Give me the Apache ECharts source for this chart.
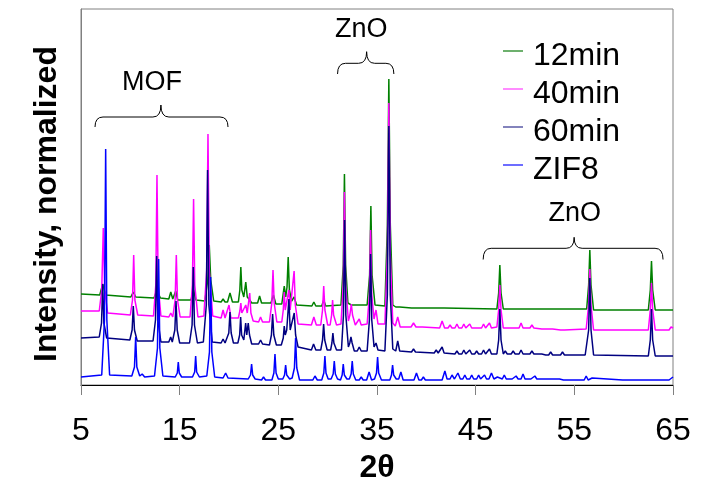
<!DOCTYPE html>
<html>
<head>
<meta charset="utf-8">
<script src="https://cdn.jsdelivr.net/npm/echarts@6/dist/echarts.min.js"></script>
<style>
html,body{margin:0;padding:0;background:#fff;}
#chart{width:702px;height:480px;}
</style>
</head>
<body>
<div id="chart"></div>
<script>
// x-axis tick labels (2-theta)
const xTicks = [5, 15, 25, 35, 45, 55, 65];
const seriesNames = ['12min', '40min', '60min', 'ZIF8'];

// Stacked (offset) XRD patterns, [2theta, intensity]
const data12min = [
[5,91],[6.9,90],[7.2,101],[7.5,90],
[10.05,88],[10.3,93],[10.55,88],
[12.4,87],[12.58,92],[12.7,105],[12.82,92],[13.05,87],
[13.9,86],[14.1,93],[14.3,86],[14.4,86],[14.6,94],[14.8,85],
[16.15,85],[16.4,95],[16.65,85],
[17.55,84],[17.85,105],[18.0,140],[18.15,105],[18.45,84],
[19.2,83],[19.4,86],[19.6,83],
[19.85,83],[20.1,92],[20.35,83],
[20.95,83],[21.1,95],[21.2,118],[21.3,95],[21.5,88],[21.7,103],[21.85,88],[22.1,85],[22.3,82],
[22.9,82],[23.1,89],[23.3,82],
[24.25,82],[24.5,90],[24.75,81],
[25.35,81],[25.6,99],[25.75,88],[25.88,98],[26.0,128],[26.12,95],[26.35,84],[26.6,88],[26.85,80],
[28.4,79],[28.6,83],[28.8,79],
[29.4,79],[29.6,85],[29.8,79],
[31.35,80],[31.58,120],[31.7,211],[31.82,120],[32.05,82],[32.2,83],[32.4,80],
[34.0,80],[34.25,110],[34.38,179],[34.5,110],[34.8,80],
[35.8,79],[36.05,160],[36.2,306],[36.35,160],[36.6,80],
[36.9,78],[37.1,80],[37.3,78],
[38.5,77],[38.7,79],[38.9,77],
[41.4,77],[41.6,79],[41.8,77],
[47.15,76],[47.33,92],[47.45,120],[47.57,92],[47.8,76],
[53.5,76],[53.7,77],[53.9,76],
[56.25,76],[56.45,100],[56.57,135],[56.69,100],[56.95,75],
[62.5,75],[62.7,95],[62.82,124],[62.94,95],[63.2,75],
[65,75]
];

const data40min = [
[5,74],[6.85,74],[7.1,95],[7.26,157],[7.4,95],[7.7,72],
[10.0,70],[10.22,85],[10.34,130],[10.46,85],[10.75,70],
[12.35,69],[12.58,100],[12.7,210],[12.82,100],[13.1,69],
[13.9,68],[14.1,72],[14.3,68],
[14.35,68],[14.54,85],[14.66,130],[14.78,85],[15.05,68],
[16.05,68],[16.29,100],[16.41,186],[16.53,100],[16.85,68],
[17.45,69],[17.74,115],[17.87,251],[18.0,115],[18.35,69],
[19.2,67],[19.4,75],[19.6,67],
[19.8,67],[20.0,80],[20.2,67],
[20.95,67],[21.1,74],[21.2,82],[21.3,72],[21.45,70],[21.7,80],[21.85,72],[22.1,92],[22.22,72],[22.45,64],
[23.0,63],[23.2,68],[23.4,63],
[24.1,63],[24.34,82],[24.46,115],[24.58,82],[24.85,63],
[25.35,63],[25.5,75],[25.6,93],[25.7,75],[25.9,75],[26.07,95],[26.2,75],[26.4,76],[26.6,114],[26.72,80],[27.0,61],
[28.35,60],[28.6,68],[28.85,60],
[29.3,60],[29.48,75],[29.6,99],[29.72,75],[30.0,60],
[30.25,60],[30.4,70],[30.5,85],[30.6,70],[30.9,60],
[31.35,61],[31.58,100],[31.7,193],[31.82,100],[32.1,64],[32.25,70],[32.4,81],[32.52,70],[32.8,60],
[33.0,60],[33.2,66],[33.4,60],
[34.0,61],[34.23,90],[34.35,155],[34.47,90],[34.7,66],[34.9,75],[35.1,61],
[35.8,61],[36.05,130],[36.2,282],[36.35,130],[36.6,62],
[36.85,59],[37.1,68],[37.35,58],
[38.45,58],[38.7,62],[38.95,58],[39.2,58],[39.4,60],[39.6,58],
[41.35,57],[41.6,64],[41.85,57],[42.2,57],[42.4,60],[42.6,57],[42.9,57],[43.1,61],[43.3,57],
[43.6,57],[43.8,61],[44.0,57],[44.2,57],[44.4,61],[44.6,57],[44.9,57],[45.1,59],[45.3,57],[45.6,57],[45.8,61],[46.0,57],[46.2,57],[46.4,62],[46.6,57],
[47.15,58],[47.33,75],[47.45,100],[47.57,75],[47.8,57],
[48.6,57],[48.8,59],[49.0,57],[49.4,57],[49.6,62],[49.8,57],[50.5,57],[50.7,60],[50.9,57],[51.7,56],[51.9,58],[52.1,56],[52.4,56],[52.6,58],[52.8,56],[53.6,55],[53.8,57],[54.0,55],
[56.2,56],[56.45,80],[56.57,116],[56.69,80],[56.95,55],
[62.5,55],[62.7,75],[62.82,102],[62.94,75],[63.2,55],
[64.6,55],[64.8,58],[65,57]
];

const data60min = [
[5,47],[6.85,48],[7.08,62],[7.2,101],[7.32,62],[7.6,47],
[9.95,45],[10.18,55],[10.3,79],[10.42,55],[10.7,44],
[12.3,44],[12.55,65],[12.67,129],[12.79,65],[13.1,43],
[13.9,43],[14.09,48],[14.25,43],
[14.35,43],[14.51,55],[14.63,84],[14.75,55],[15.0,42],
[16.0,42],[16.26,60],[16.38,118],[16.5,60],[16.8,42],
[17.4,43],[17.7,80],[17.83,215],[17.96,80],[18.3,43],
[19.2,42],[19.4,46],[19.6,42],
[19.8,42],[19.98,52],[20.1,73],[20.22,52],[20.45,42],
[20.9,42],[21.08,50],[21.18,68],[21.28,50],[21.5,45],[21.69,62],[21.8,50],[21.95,62],[22.08,50],[22.3,41],
[23.0,41],[23.2,45],[23.4,41],
[24.1,40],[24.3,50],[24.42,71],[24.54,50],[24.8,40],
[25.3,40],[25.5,47],[25.6,59],[25.7,50],[25.85,55],[26.07,86],[26.2,55],[26.35,55],[26.61,72],[26.75,50],[27.0,38],
[28.35,35],[28.57,41],[28.8,35],
[29.3,35],[29.48,45],[29.59,61],[29.7,45],[29.95,35],
[30.3,35],[30.43,42],[30.53,52],[30.63,42],[30.9,35],
[31.4,35],[31.6,70],[31.72,165],[31.84,70],[32.1,38],[32.24,42],[32.36,48],[32.48,42],[32.7,34],
[33.0,34],[33.2,38],[33.4,34],
[34.0,34],[34.23,65],[34.35,131],[34.47,65],[34.7,38],[34.9,42],[35.1,35],
[35.8,34],[36.05,90],[36.2,259],[36.35,90],[36.6,36],
[36.9,34],[37.1,44],[37.3,34],
[38.5,33],[38.7,36],[38.9,33],
[40.8,32],[41.0,35],[41.2,32],[41.4,32],[41.6,38],[41.8,32],
[42.9,31],[43.1,34],[43.3,31],[43.6,31],[43.8,35],[44.0,31],[44.2,31],[44.4,35],[44.6,31],[44.9,31],[45.1,34],[45.3,31],[45.6,31],[45.8,35],[46.0,31],[46.2,31],[46.4,36],[46.6,31],
[47.15,31],[47.33,45],[47.45,76],[47.57,45],[47.8,31],[48.0,34],[48.2,31],[48.6,31],[48.8,34],[49.0,31],[49.4,31],[49.6,35],[49.8,31],[50.5,31],[50.7,34],[50.9,31],[51.7,31],[51.9,33],[52.1,30],[52.4,30],[52.6,33],[52.8,30],[53.6,30],[53.8,33],[54.0,30],
[55.7,30],[55.9,32],[56.1,30],
[56.25,31],[56.45,55],[56.57,107],[56.69,55],[56.95,30],
[62.5,29],[62.7,45],[62.82,76],[62.94,45],[63.2,29],
[65,29]
];

const dataZIF8 = [
[5,8],[7.1,10],[7.38,65],[7.5,236],[7.62,65],[7.9,10],
[10.15,9],[10.42,18],[10.54,48],[10.66,18],[10.95,9],
[11.2,11],[11.45,8],
[12.45,9],[12.75,37],[12.87,126],[12.99,37],[13.3,9],
[14.55,8],[14.76,12],[14.86,23],[14.96,12],[15.2,8],
[16.3,8],[16.52,13],[16.62,29],[16.72,13],[17.0,8],
[17.75,9],[18.02,33],[18.14,108],[18.26,33],[18.55,8],
[19.4,7],[19.66,12],[19.9,7],
[21.95,6],[22.18,10],[22.29,21],[22.4,10],[22.65,6],
[23.3,5],[23.5,8],[23.7,5],
[24.35,5],[24.55,12],[24.66,31],[24.77,12],[25.0,6],[25.45,6],[25.63,10],[25.74,20],[25.85,10],[26.15,6],
[26.4,7],[26.63,17],[26.75,47],[26.87,17],[27.15,5],
[28.5,5],[28.71,9],[28.95,5],
[29.4,5],[29.61,12],[29.72,29],[29.83,12],[30.05,6],[30.35,6],[30.56,11],[30.67,24],[30.78,11],[31.0,6],[31.3,5],[31.47,10],[31.58,21],[31.69,10],[31.95,6],[32.2,6],[32.38,11],[32.49,24],[32.6,11],[32.85,5],
[33.2,5],[33.4,8],[33.6,5],
[33.95,5],[34.2,13],[34.45,5],
[34.75,6],[34.95,12],[35.06,28],[35.17,12],[35.45,5],
[36.3,5],[36.47,10],[36.58,20],[36.69,10],[36.95,6],[37.2,6],[37.42,13],[37.65,5],
[38.75,5],[39.0,12],[39.25,5],[39.5,5],[39.7,8],[39.9,5],
[41.6,5],[41.88,14],[42.1,6],[42.4,6],[42.6,10],[42.85,6],[43.0,6],[43.2,12],[43.45,6],[43.7,6],[43.9,10],[44.1,6],[44.4,6],[44.6,10],[44.8,6],[45.1,6],[45.3,10],[45.5,6],[45.7,6],[45.9,10],[46.1,6],[46.35,6],[46.6,12],[46.85,6],[47.05,6],[47.2,8],[47.4,6],[47.7,6],[47.9,10],[48.1,6],[48.35,6],[48.5,8],[48.7,6],[48.9,6],[49.1,9],[49.3,6],[49.6,6],[49.8,11],[50.0,6],[50.25,6],[50.4,7],[50.6,6],[50.8,6],[51.0,9],[51.2,6],[51.6,6],[51.8,7],[52.0,6],[52.6,6],[52.8,8],[53.0,6],[53.5,6],[53.7,7],[53.9,5],
[56.0,5],[56.2,9],[56.4,5],[56.6,5],[56.8,7],[57.0,5],
[59.9,5],[60.1,6],[60.3,5],[60.9,5],[61.1,7],[61.3,5],
[64.6,5],[65,8]
];

// Bracket annotations, in data coordinates
const annotations = [
  {text: 'MOF', tx: 12.2, ty: 302, x0: 6.42, x1: 19.9, xc: 13.1, yEnd: 258, yLine: 268, yCusp: 280},
  {text: 'ZnO', tx: 33.4, ty: 355, x0: 31.0, x1: 36.71, xc: 33.95, yEnd: 311, yLine: 321.7, yCusp: 333.3},
  {text: 'ZnO', tx: 55.05, ty: 171, x0: 45.76, x1: 63.99, xc: 54.98, yEnd: 125.5, yLine: 136.7, yCusp: 147.7}
];

const colors = ['#008000', '#ff00ff', '#000080', '#0000ff'];
const legendLineColors = ['#3c963c', '#ff66ff', '#5a5aa6', '#3c3cff'];
const seriesData = [data12min, data40min, data60min, dataZIF8];

const chart = echarts.init(document.getElementById('chart'), null, {renderer: 'canvas'});
const FONT = 'Liberation Sans, Arial, sans-serif';

const LEG_LEFT = 503, LEG_TOP = 35, LEG_ROW = 32, LEG_GAP = 6, LEG_SWATCH = 20;

chart.setOption({
  animation: false,
  backgroundColor: '#fff',
  color: colors,
  grid: {left: 81, right: 29, top: 9, bottom: 95, show: true, borderColor: '#808080', borderWidth: 1,
         containLabel: false, outerBoundsMode: 'none'},
  legend: {
    orient: 'vertical', left: LEG_LEFT + LEG_SWATCH, top: LEG_TOP, icon: 'none', itemWidth: 0, itemHeight: LEG_ROW,
    itemGap: LEG_GAP, data: seriesNames,
    textStyle: {fontFamily: FONT, fontSize: 32, color: '#000', lineHeight: LEG_ROW}
  },
  xAxis: {
    type: 'value', min: 5, max: 65,
    name: '2θ', nameLocation: 'middle', nameGap: 64,
    nameTextStyle: {fontFamily: FONT, fontSize: 32, fontWeight: 'bold', color: '#000'},
    axisLine: {show: true, onZero: false, lineStyle: {color: '#000', width: 1}},
    axisTick: {show: true, length: 10, lineStyle: {color: '#808080'}, customValues: xTicks},
    axisLabel: {customValues: xTicks, fontFamily: FONT, fontSize: 32, color: '#000', margin: 30},
    splitLine: {show: false}
  },
  yAxis: {
    type: 'value', min: 0, max: 376,
    name: 'Intensity, normalized', nameLocation: 'middle', nameGap: 18,
    nameTextStyle: {fontFamily: FONT, fontSize: 32, fontWeight: 'bold', color: '#000', padding: [0, 14, 0, 0]},
    axisLine: {show: true, lineStyle: {color: '#808080'}},
    axisTick: {show: false}, axisLabel: {show: false}, splitLine: {show: false}
  },
  series: seriesNames.map((n, i) => ({
    name: n, type: 'line', data: seriesData[i], showSymbol: false, symbol: 'none',
    lineStyle: {width: 1.5, color: colors[i]}, itemStyle: {color: colors[i]}
  }))
});

function px(x, y) { return chart.convertToPixel({gridIndex: 0}, [x, y]); }
const graphics = [];
const stroke = {stroke: '#000', lineWidth: 1, fill: null};
annotations.forEach(a => {
  const L = px(a.x0, a.yEnd), R = px(a.x1, a.yEnd), C = px(a.xc, a.yCusp);
  const yl = px(a.x0, a.yLine)[1];
  const r = 8;
  graphics.push({type: 'bezierCurve', shape: {x1: L[0], y1: L[1], x2: L[0] + r, y2: yl, cpx1: L[0], cpy1: yl}, style: stroke, z: 10});
  graphics.push({type: 'line', shape: {x1: L[0] + r, y1: yl, x2: C[0] - r, y2: yl}, style: stroke, z: 10});
  graphics.push({type: 'bezierCurve', shape: {x1: C[0] - r, y1: yl, x2: C[0], y2: C[1], cpx1: C[0], cpy1: yl}, style: stroke, z: 10});
  graphics.push({type: 'bezierCurve', shape: {x1: C[0], y1: C[1], x2: C[0] + r, y2: yl, cpx1: C[0], cpy1: yl}, style: stroke, z: 10});
  graphics.push({type: 'line', shape: {x1: C[0] + r, y1: yl, x2: R[0] - r, y2: yl}, style: stroke, z: 10});
  graphics.push({type: 'bezierCurve', shape: {x1: R[0] - r, y1: yl, x2: R[0], y2: R[1], cpx1: R[0], cpy1: yl}, style: stroke, z: 10});
  const T = px(a.tx, a.ty);
  graphics.push({type: 'text', x: T[0], y: T[1], style: {text: a.text, font: '27px ' + FONT, fill: '#000', align: 'center', verticalAlign: 'middle'}, z: 10});
});
// legend line swatches beside the legend texts
seriesNames.forEach((n, i) => {
  const cy = LEG_TOP + LEG_ROW / 2 + i * (LEG_ROW + LEG_GAP);
  graphics.push({type: 'line', shape: {x1: LEG_LEFT, y1: cy, x2: LEG_LEFT + LEG_SWATCH, y2: cy},
    style: {stroke: legendLineColors[i], lineWidth: 1.5}, z: 10});
});
chart.setOption({graphic: graphics});
</script>
</body>
</html>
